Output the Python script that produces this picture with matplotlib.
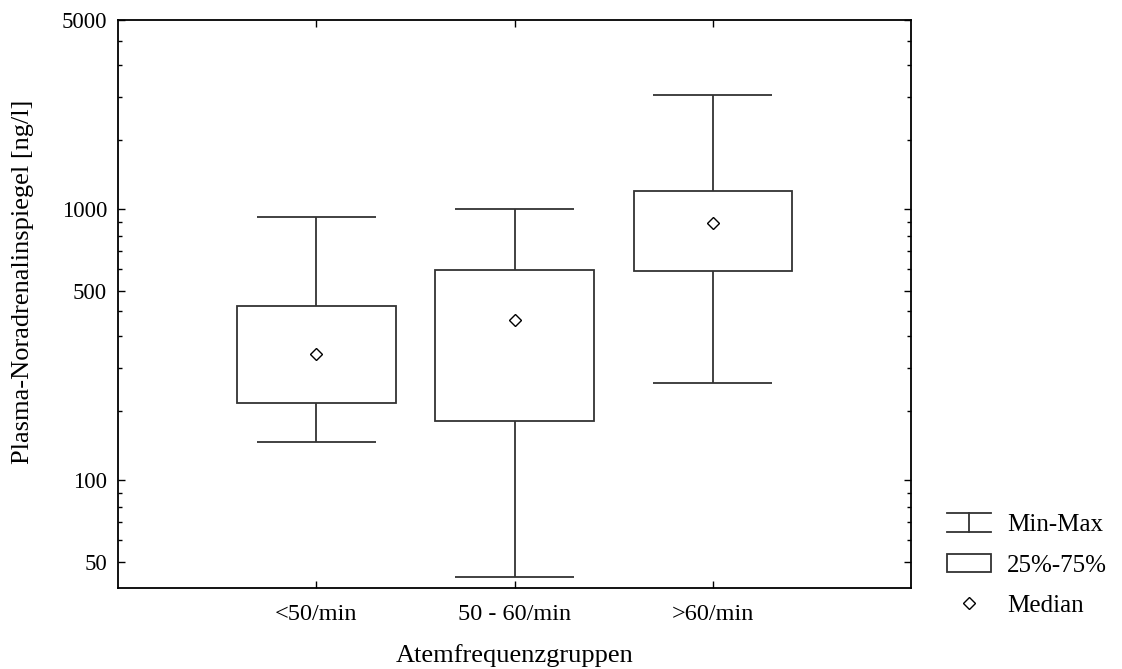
import matplotlib
matplotlib.use("Agg")
import matplotlib.pyplot as plt
from matplotlib.legend_handler import HandlerBase
from matplotlib.lines import Line2D
from matplotlib.patches import Rectangle
import matplotlib.ticker as mticker

plt.rcParams['font.family'] = ['Liberation Serif', 'DejaVu Serif']

# Data
categories = ['<50/min', '50 - 60/min', '>60/min']
minimum = [139, 44, 229]
q1 = [193, 165, 592]
median = [293, 390, 888]
q3 = [440, 597, 1174]
maximum = [935, 1000, 2650]

major_ticks = [50, 100, 500, 1000, 5000]
minor_ticks = [60, 70, 80, 90, 180, 260, 340, 420, 600, 700, 800, 900,
               1800, 2600, 3400, 4200]

FS_Y = 16.5
FS_X = 17.5
FS_LAB = 19
FS_LEG = 18
EC = '#333333'

fig = plt.figure(figsize=(11.22, 6.69), dpi=100)
ax = fig.add_axes([0.1052, 0.121, 0.812 - 0.1052, 0.970 - 0.121])
ax.set_yscale('log')

xs = list(range(1, len(categories) + 1))
box_w = 0.8
cap_w = 0.6

ax.bar(xs, [b - a for a, b in zip(q1, q3)], bottom=q1, width=box_w,
       facecolor='none', edgecolor=EC, linewidth=1.3, zorder=3)
ax.vlines(xs, q3, maximum, color=EC, linewidth=1.3, zorder=3)
ax.vlines(xs, minimum, q1, color=EC, linewidth=1.3, zorder=3)
ax.hlines(maximum, [x - cap_w / 2 for x in xs], [x + cap_w / 2 for x in xs],
          color=EC, linewidth=1.3, zorder=3)
ax.hlines(minimum, [x - cap_w / 2 for x in xs], [x + cap_w / 2 for x in xs],
          color=EC, linewidth=1.3, zorder=3)
ax.plot(xs, median, linestyle='none', marker='D', markersize=6,
        markerfacecolor='white', markeredgecolor='black', markeredgewidth=1.0,
        zorder=4)

ax.set_xlim(0, len(categories) + 1)
ax.set_ylim(40, 5000)
ax.set_xticks(xs)
ax.set_xticklabels(categories, fontsize=FS_X)
ax.yaxis.set_major_locator(mticker.FixedLocator(major_ticks))
ax.yaxis.set_minor_locator(mticker.FixedLocator(minor_ticks))
ax.yaxis.set_major_formatter(mticker.FixedFormatter([str(t) for t in major_ticks]))
ax.yaxis.set_minor_formatter(mticker.NullFormatter())
ax.tick_params(axis='both', which='major', direction='in', length=5,
               width=1, top=True, right=True)
ax.tick_params(axis='x', which='major', labelsize=FS_X, pad=11.5)
ax.tick_params(axis='y', which='major', labelsize=FS_Y, pad=8)
ax.tick_params(axis='y', which='minor', direction='in', length=3,
               width=1, right=True)
ax.tick_params(axis='x', which='minor', bottom=False, top=False)
for s in ax.spines.values():
    s.set_linewidth(1.3)

ax.set_xlabel('Atemfrequenzgruppen', fontsize=FS_LAB, labelpad=13.5)
ax.set_ylabel('Plasma-Noradrenalinspiegel [ng/l]', fontsize=FS_LAB)
ax.yaxis.set_label_coords(-0.106, 0.539)


class MinMaxHandler(HandlerBase):
    def create_artists(self, legend, orig_handle, xdescent, ydescent,
                       width, height, fontsize, trans):
        x0, x1 = -xdescent, -xdescent + width
        y0, y1 = -ydescent, -ydescent + height
        xm = (x0 + x1) / 2
        arts = [Line2D([x0, x1], [y1, y1], color=EC, lw=1.3),
                Line2D([x0, x1], [y0, y0], color=EC, lw=1.3),
                Line2D([xm, xm], [y0, y1], color=EC, lw=1.3)]
        for a in arts:
            a.set_transform(trans)
        return arts


class BoxHandler(HandlerBase):
    def create_artists(self, legend, orig_handle, xdescent, ydescent,
                       width, height, fontsize, trans):
        r = Rectangle((-xdescent, -ydescent), width, height,
                      facecolor='none', edgecolor=EC, lw=1.3, transform=trans)
        return [r]


class MM:
    pass


class BX:
    pass


med_handle = Line2D([], [], linestyle='none', marker='D', markersize=6,
                    markerfacecolor='white', markeredgecolor='black',
                    markeredgewidth=1.0)

leg = fig.legend([MM(), BX(), med_handle], ['Min-Max', '25%-75%', 'Median'],
                 handler_map={MM: MinMaxHandler(), BX: BoxHandler()},
                 loc='lower left', bbox_to_anchor=(0.8243, 0.044),
                 frameon=False, fontsize=FS_LEG, handlelength=1.76,
                 handleheight=0.76, labelspacing=0.7, handletextpad=0.64)

fig.savefig('out.png', dpi=100)
